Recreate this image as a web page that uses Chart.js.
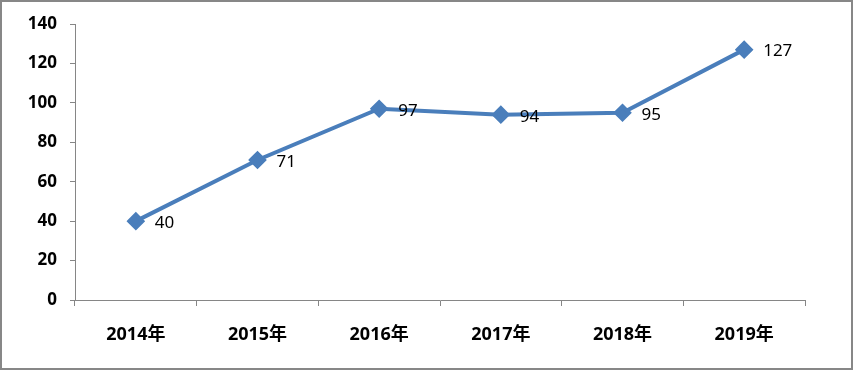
<!DOCTYPE html>
<html>
<head>
<meta charset="utf-8">
<script src="https://cdn.jsdelivr.net/npm/chart.js@4"></script>
<style>
  html, body { margin: 0; padding: 0; background: #fff; }
  #wrap { width: 853px; height: 370px; position: relative; }
</style>
</head>
<body>
<div id="wrap"><canvas id="grafico"></canvas></div>
<script>
const anos = ['2014年', '2015年', '2016年', '2017年', '2018年', '2019年'];
const valores = [40, 71, 97, 94, 95, 127];
const ticksY = [0, 20, 40, 60, 80, 100, 120, 140];

const fonte = "'Noto Sans', 'Noto Sans CJK SC', sans-serif";

// moldura cinza em volta do gráfico
const moldura = {
  id: 'moldura',
  beforeDraw(chart) {
    const ctx = chart.ctx;
    ctx.save();
    ctx.fillStyle = '#fff';
    ctx.fillRect(0, 0, chart.width, chart.height);
    ctx.strokeStyle = '#878787';
    ctx.lineWidth = 2;
    ctx.strokeRect(1, 1, chart.width - 2, chart.height - 2);
    ctx.restore();
  }
};

// rótulos de valor à direita de cada ponto
const rotulos = {
  id: 'rotulos',
  afterDatasetsDraw(chart) {
    const ctx = chart.ctx;
    const meta = chart.getDatasetMeta(0);
    ctx.save();
    ctx.font = '17px ' + fonte;
    ctx.fillStyle = '#000';
    ctx.textAlign = 'left';
    ctx.textBaseline = 'middle';
    meta.data.forEach((p, i) => {
      ctx.fillText(String(valores[i]), p.x + 19, p.y + 2);
    });
    ctx.restore();
  }
};

new Chart(document.getElementById('grafico'), {
  type: 'line',
  data: {
    labels: anos,
    datasets: [{
      data: valores,
      borderColor: '#4A7EBB',
      backgroundColor: '#4A7EBB',
      borderWidth: 4,
      pointStyle: 'rectRot',
      pointRadius: 6.5,
      pointHoverRadius: 6.5,
      tension: 0
    }]
  },
  options: {
    responsive: true,
    maintainAspectRatio: false,
    animation: false,
    events: [],
    layout: { padding: { top: 24, right: 48, bottom: 0, left: 0 } },
    plugins: {
      legend: { display: false },
      tooltip: { enabled: false }
    },
    scales: {
      x: {
        offset: true,
        grid: {
          offset: true,
          drawOnChartArea: false,
          drawTicks: true,
          tickLength: 6,
          color: '#868686'
        },
        border: { color: '#868686', width: 1 },
        ticks: {
          color: '#000',
          padding: 18,
          font: { family: fonte, size: 18, weight: 'bold' }
        },
        afterFit: s => { s.height = 70; }
      },
      y: {
        min: 0,
        max: 140,
        afterBuildTicks: s => { s.ticks = ticksY.map(v => ({ value: v })); },
        grid: {
          drawOnChartArea: false,
          drawTicks: true,
          tickLength: 5,
          color: '#868686'
        },
        border: { color: '#868686', width: 1 },
        ticks: {
          color: '#000',
          padding: 13,
          font: { family: fonte, size: 17, weight: 'bold' }
        },
        afterFit: s => { s.width = 75; }
      }
    }
  },
  plugins: [moldura, rotulos]
});
</script>
</body>
</html>
